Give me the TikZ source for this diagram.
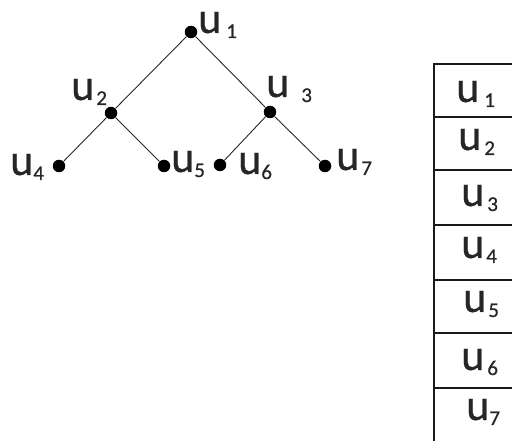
\documentclass[tikz,border=0pt]{standalone}
\usepackage{fontspec}
\setmainfont{Carlito}
\newfontfamily\labelfont{Carlito}[FakeBold=0.6]
\usepackage{tikz}
\tikzset{
    tree-dot/.style = {circle, fill=black, inner sep=0pt, minimum size=12.5pt},
    tree-edge/.style = {draw=black!85, line width=0.9pt},
    vertex-label/.style = {inner sep=0pt, anchor=base west, text=black!85, font=\labelfont\fontsize{44}{48}\selectfont},
    table-line/.style = {draw=black!90, line width=1.3pt},
}
% vertex name with lowered index, optional gap before the index
\newcommand{\vname}[2][3pt]{u\kern#1\raisebox{-5pt}{\fontsize{21}{21}\selectfont #2}}

\begin{document}
\begin{tikzpicture}[x=1pt, y=-1pt]
\useasboundingbox (0,0) rectangle (512,441);

% binary tree
\node[tree-dot] (v1) at (191,32) {};
\node[tree-dot] (v2) at (111,113) {};
\node[tree-dot] (v3) at (270,112) {};
\node[tree-dot] (v4) at (59,166) {};
\node[tree-dot] (v5) at (164,166) {};
\node[tree-dot] (v6) at (220,165) {};
\node[tree-dot] (v7) at (325,166) {};

\draw[tree-edge] (v1) -- (v2);
\draw[tree-edge] (v1) -- (v3);
\draw[tree-edge] (v2) -- (v4);
\draw[tree-edge] (v2) -- (v5);
\draw[tree-edge] (v3) -- (v6);
\draw[tree-edge] (v3) -- (v7);

\node[vertex-label] (l1) at (198,33) {\vname[5pt]{1}};
\node[vertex-label] (l2) at (71,100) {\vname[2pt]{2}};
\node[vertex-label] (l3) at (266,97) {\vname[12pt]{3}};
\node[vertex-label] (l4) at (10,175) {\vname[0pt]{4}};
\node[vertex-label] (l5) at (171,172) {\vname[0pt]{5}};
\node[vertex-label] (l6) at (238,174) {\vname[0pt]{6}};
\node[vertex-label] (l7) at (336,170) {\vname[2pt]{7}};

% vertex table
\draw[table-line] (434,443) -- (434,64) -- (530,64);
\foreach \y in {117,170,225,280,333,388}
    \draw[table-line] (434,\y) -- (530,\y);

\node[vertex-label] (t1) at (456,102) {\vname[5pt]{1}};
\node[vertex-label] (t2) at (458,150) {\vname[3pt]{2}};
\node[vertex-label] (t3) at (461,206) {\vname[3pt]{3}};
\node[vertex-label] (t4) at (461,258) {\vname[2pt]{4}};
\node[vertex-label] (t5) at (463,312) {\vname[2pt]{5}};
\node[vertex-label] (t6) at (461,370) {\vname[3pt]{6}};
\node[vertex-label] (t7) at (466,420) {\vname[0pt]{7}};
\end{tikzpicture}
\end{document}
